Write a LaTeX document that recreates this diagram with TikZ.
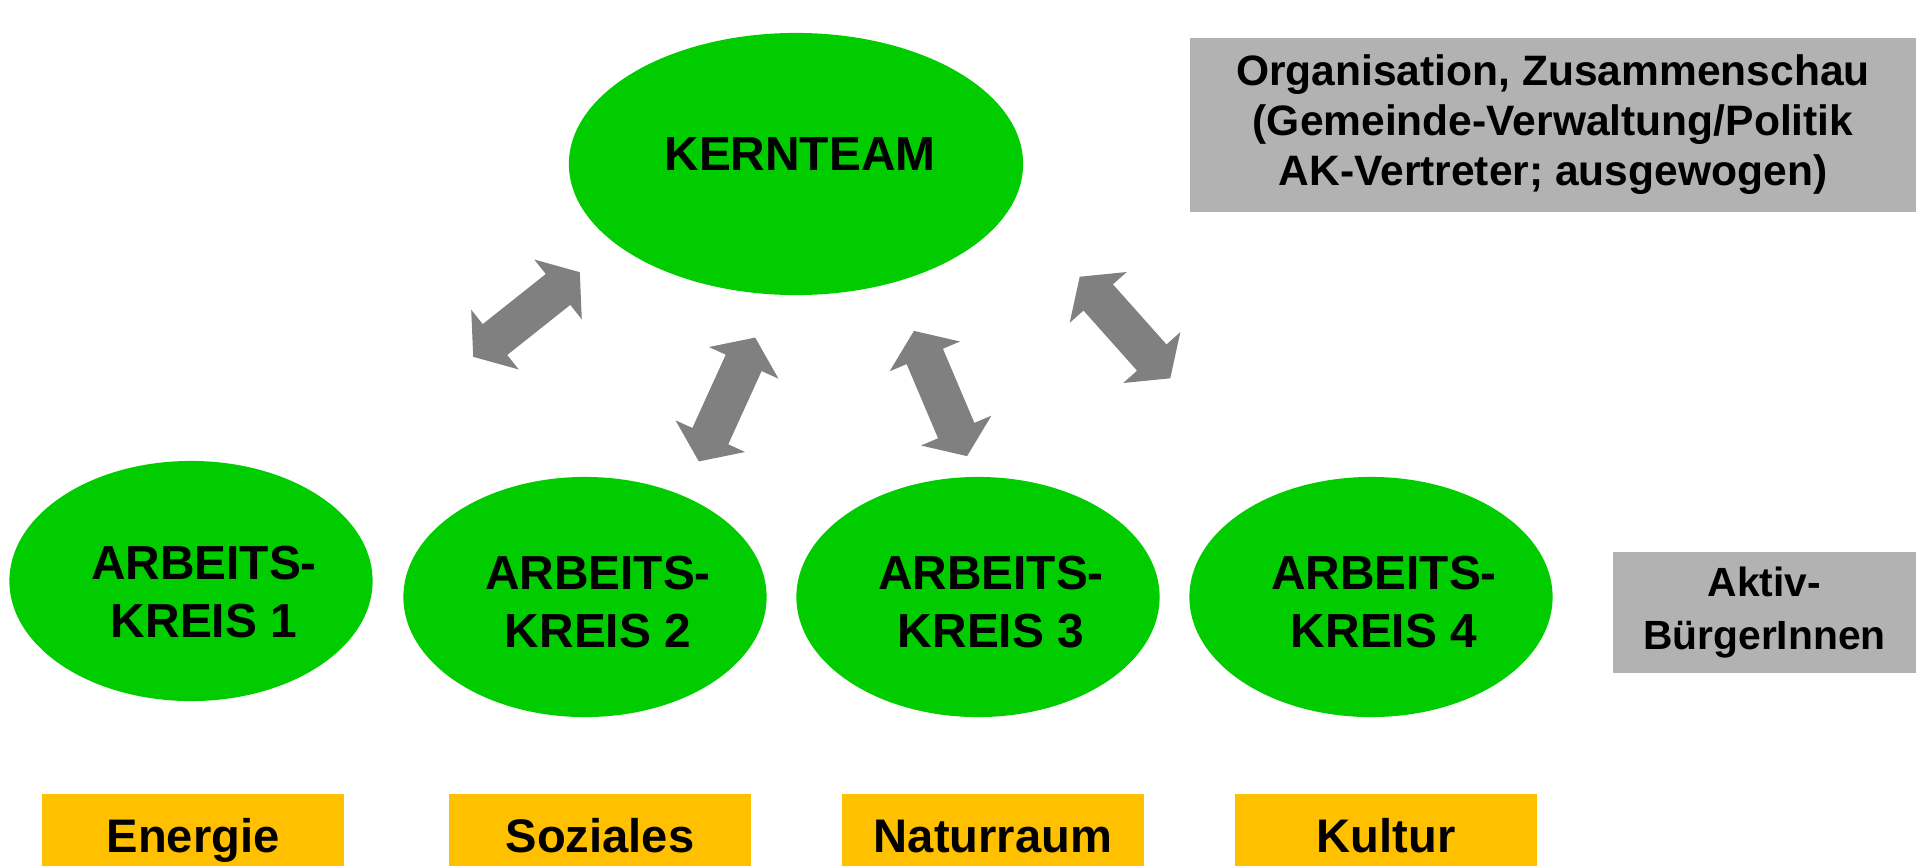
\documentclass[tikz,border=0pt]{standalone}
\usepackage{fontspec}
\setmainfont{Liberation Sans}
\usetikzlibrary{shapes.geometric,shapes.arrows,calc}
\definecolor{kerngruen}{RGB}{0,204,0}
\definecolor{infograu}{RGB}{178,178,178}
\definecolor{pfeilgrau}{RGB}{128,128,128}
\definecolor{themaorange}{RGB}{255,192,0}
\newcommand{\akw}{3.63cm}
\newcommand{\akh}{2.40cm}

\begin{document}
\begin{tikzpicture}[x=0.01cm, y=-0.01cm,
    kreis/.style={ellipse, fill=kerngruen, minimum width=\akw, minimum height=\akh, inner sep=0pt},
    kreistext/.style={inner sep=0pt, align=center, font=\fontsize{13.6}{16.5}\selectfont\bfseries},
    thema/.style={rectangle, fill=themaorange, minimum width=3.02cm, minimum height=0.72cm, inner sep=0pt, text height=0.44cm, text depth=0pt, font=\fontsize{13.4}{16}\selectfont\bfseries},
    info/.style={rectangle, fill=infograu, inner sep=0pt, align=center, font=\fontsize{12.1}{14.2}\selectfont\bfseries},
    pfeil/.style={double arrow, fill=pfeilgrau, minimum height=1.36cm, inner xsep=0pt, inner ysep=0.19cm, double arrow head extend=0.185cm, double arrow tip angle=108}]
    \useasboundingbox (0,0) rectangle (1917,866);

    % Kernteam
    \node[kreis, minimum width=4.54cm, minimum height=2.62cm] (kernteam) at (796,164) {};
    \node[kreistext, text depth=0.2cm] (kernteam-text) at ([shift={(4,0)}]kernteam.center) {KERNTEAM};

    % Arbeitskreise
    \node[kreis] (ak-1) at (191,581) {};
    \node[kreis] (ak-2) at (585,597) {};
    \node[kreis] (ak-3) at (978,597) {};
    \node[kreis] (ak-4) at (1371,597) {};
    \node[kreistext] (ak-1-text) at ([shift={(13,11)}]ak-1.center) {ARBEITS-\\KREIS 1};
    \node[kreistext] (ak-2-text) at ([shift={(13,5)}]ak-2.center) {ARBEITS-\\KREIS 2};
    \node[kreistext] (ak-3-text) at ([shift={(13,5)}]ak-3.center) {ARBEITS-\\KREIS 3};
    \node[kreistext] (ak-4-text) at ([shift={(13,5)}]ak-4.center) {ARBEITS-\\KREIS 4};

    % Themen
    \node[thema] (thema-1) at (193,830) {Energie};
    \node[thema] (thema-2) at (600,830) {Soziales};
    \node[thema] (thema-3) at (993,830) {Naturraum};
    \node[thema] (thema-4) at (1386,830) {Kultur};

    % Infokaesten rechts
    \node[info, minimum width=7.26cm, minimum height=1.74cm] (orga) at (1553,125) {Organisation, Zusammenschau\\(Gemeinde-Verwaltung/Politik\\AK-Vertreter; ausgewogen)};
    \node[info, minimum width=3.03cm, minimum height=1.21cm, font=\fontsize{11.6}{15.1}\selectfont\bfseries] (aktiv) at (1764.5,612.5) {Aktiv-\\BürgerInnen};

    % Doppelpfeile
    \foreach \ax/\ay/\bx/\by [count=\i] in {473/357/580/272, 699/461/755/338, 914/331/967/456, 1080/277/1170/378}
        \path let \p1=($(\bx,\by)-(\ax,\ay)$), \n1={atan2(\y1,\x1)} in
            node[pfeil, rotate=\n1] (pfeil-\i) at ($(\ax,\ay)!0.5!(\bx,\by)$) {};

\end{tikzpicture}
\end{document}
